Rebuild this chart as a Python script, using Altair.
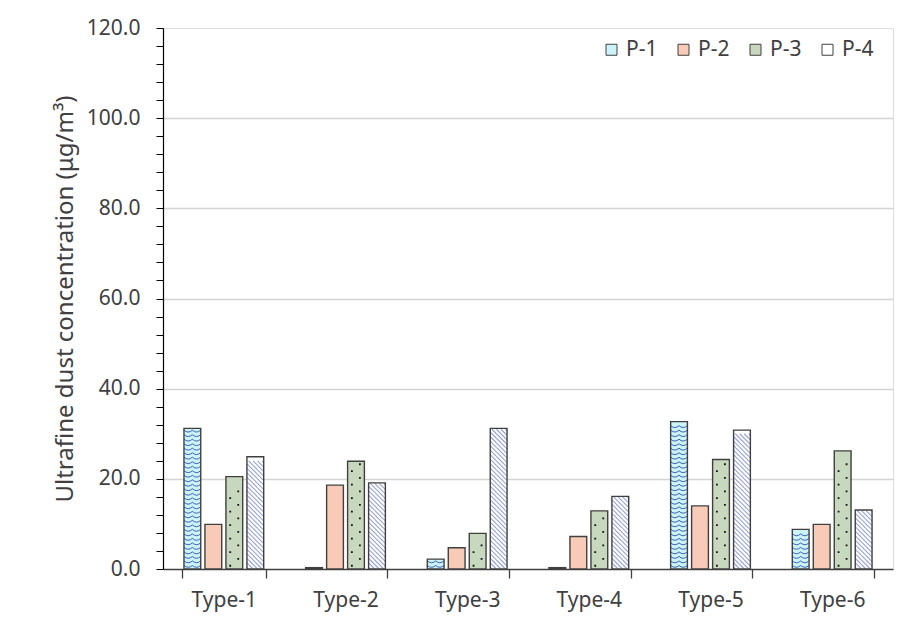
import altair as alt
import pandas as pd

# ---- data ----
types = ["Type-1", "Type-2", "Type-3", "Type-4", "Type-5", "Type-6"]
series = ["P-1", "P-2", "P-3", "P-4"]
p1 = [31.2, 0.3, 2.2, 0.3, 32.7, 8.8]
p2 = [9.9, 18.6, 4.7, 7.2, 14.0, 9.9]
p3 = [20.5, 23.9, 7.9, 12.9, 24.3, 26.2]
p4 = [24.9, 19.1, 31.2, 16.1, 30.8, 13.1]
y_ticks = list(range(0, 121, 4))

rows = []
for s, vals in zip(series, [p1, p2, p3, p4]):
    for t, v in zip(types, vals):
        rows.append({"type": t, "series": s, "value": v})
df = pd.DataFrame(rows)

# ---- style ----
W, H = 730, 541
FONT = "Noto Sans"
TXT = "#404040"
fills = ["#CCF3F9", "#F8CBB9", "#C8D8BE", "#FFFFFF"]
PX = H / 120.0  # pixels per data unit (pattern period)

# hatch pattern tile (lines running "\"), size=4 -> path units are pixels
half_w = 8.3
hp = PX
segs = []
k = -6
while k <= 6:
    c = k * hp
    x0 = max(-hp / 2 - c, -half_w)
    x1 = min(hp / 2 - c, half_w)
    if x1 > x0:
        segs.append(f"M{x0:.2f},{x0 + c:.2f}L{x1:.2f},{x1 + c:.2f}")
    k += 1
hatch_path = "".join(segs)
wave_path = "M-8.3,-1.3Q-4.15,2.4 0,-1.3Q4.15,2.4 8.3,-1.3"
dot_path = "M3,-4.2h1.8v1.8h-1.8zM-5,2.6h1.8v1.8h-1.8z"

x_enc = alt.X(
    "type:N", sort=types,
    scale=alt.Scale(paddingInner=0.31, paddingOuter=0.155),
    axis=alt.Axis(title=None, tickBand="extent", labelAngle=0, tickSize=9,
                  labelPadding=11, labelFontSize=21, labelColor=TXT,
                  domainColor="#404040", tickColor="#404040",
                  domainWidth=1.3, tickWidth=1.3, grid=False),
)
xo_enc = alt.XOffset("series:N", sort=series,
                     scale=alt.Scale(paddingInner=0.2, paddingOuter=0.1))
y_scale = alt.Scale(domain=[0, 120], nice=False, zero=True)
y_axis = alt.Axis(
    values=y_ticks,
    labelExpr="datum.value % 20 === 0 ? format(datum.value, '.1f') : ''",
    grid=True,
    gridColor="#D4D4D4",
    gridWidth=1.5,
    gridOpacity={"condition": {"test": "datum.value % 20 === 0 && datum.value > 0 && datum.value < 120", "value": 1}, "value": 0},
    tickSize=7, tickColor="#000000", tickWidth=1,
    domainColor="#000000", domainWidth=1.2,
    labelFontSize=21, labelColor=TXT, labelPadding=16,
    title="Ultrafine dust concentration (μg/m³)",
    titleFontSize=24, titleFontWeight="normal", titleColor=TXT, titlePadding=9,
)


def yenc(field):
    return alt.Y(f"{field}:Q", scale=y_scale, axis=y_axis)


base = alt.Chart(df)

bars_fill = base.mark_bar(opacity=1, strokeWidth=0).encode(
    x=x_enc, xOffset=xo_enc, y=yenc("value"),
    color=alt.Color(
        "series:N", sort=series,
        scale=alt.Scale(domain=series, range=fills),
        legend=alt.Legend(title=None, orient="none", legendX=438, legendY=11,
                          direction="horizontal", symbolType="square",
                          symbolSize=121, symbolStrokeColor="#404040",
                          symbolStrokeWidth=1, labelFontSize=21,
                          labelColor=TXT, columnPadding=15, labelOffset=4),
    ),
)

waves = base.transform_filter(alt.datum.series == "P-1").transform_calculate(
    seq="sequence(0.5, datum.value - 0.45, 1)"
).transform_flatten(["seq"], as_=["yv"]).mark_point(
    shape=wave_path, size=4, filled=False, stroke="#3A62B4",
    strokeWidth=1.0, opacity=1
).encode(x=x_enc, xOffset=xo_enc, y=yenc("yv"))

dots = base.transform_filter(alt.datum.series == "P-3").transform_calculate(
    seq="sequence(1.5, datum.value - 1.3, 3)"
).transform_flatten(["seq"], as_=["yv"]).mark_point(
    shape=dot_path, size=4, filled=True, fill="#111111", strokeWidth=0,
    opacity=1
).encode(x=x_enc, xOffset=xo_enc, y=yenc("yv"))

hatch = base.transform_filter(alt.datum.series == "P-4").transform_calculate(
    seq="sequence(0.5, datum.value - 0.45, 1)"
).transform_flatten(["seq"], as_=["yv"]).mark_point(
    shape=hatch_path, size=4, filled=False, stroke="#98A2D6",
    strokeWidth=1.1, opacity=1
).encode(x=x_enc, xOffset=xo_enc, y=yenc("yv"))

bars_line = base.mark_bar(opacity=1, fillOpacity=0, stroke="#404040",
                          strokeWidth=1.4).encode(
    x=x_enc, xOffset=xo_enc, y=yenc("value"))

chart = alt.layer(bars_fill, waves, dots, hatch, bars_line).properties(
    width=W, height=H,
    autosize=alt.AutoSizeParams(type="none"),
    padding={"left": 163, "top": 28, "right": 29, "bottom": 65},
    background="white",
).configure_view(stroke="#808080", strokeWidth=1).configure(
    font=FONT
)

chart.save("out.html", embed_options={"renderer": "svg", "actions": False})
